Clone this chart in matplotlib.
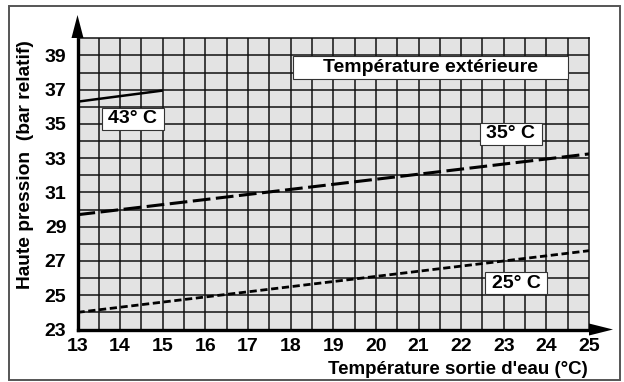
import matplotlib
matplotlib.use("Agg")
import matplotlib.pyplot as plt
from matplotlib.patches import Rectangle, Polygon
import numpy as np

plt.rcParams['font.family'] = ['Liberation Sans', 'DejaVu Sans']
plt.rcParams['font.weight'] = 'bold'

# Data
x_43 = [13, 15]
y_43 = [36.3, 36.95]
x_35 = [13, 25]
y_35 = [29.7, 33.25]
x_25 = [13, 25]
y_25 = [24.0, 27.6]

x_ticks = list(range(13, 26))
y_ticks = list(range(23, 40, 2))

title_box = "Température extérieure"
labels = ["43° C", "35° C", "25° C"]
xlabel = "Température sortie d'eau (°C)"
ylabel = "Haute pression  (bar relatif)"

W, H = 624, 382
fig = plt.figure(figsize=(W / 100, H / 100), dpi=100)
ax = fig.add_axes([77.5 / W, 1 - 329.5 / H, (589 - 77.5) / W, (329.5 - 38.3) / H])
ax.set_facecolor('#e3e3e3')
ax.set_xlim(13, 25)
ax.set_ylim(23, 40)

# grid
for xv in np.arange(13.5, 25.0, 0.5):
    ax.axvline(xv, color='#111111', lw=1.1, zorder=1)
for yv in range(24, 40):
    ax.axhline(yv, color='#111111', lw=1.1, zorder=1)

ax.set_xticks(x_ticks)
ax.set_yticks(y_ticks)
ax.tick_params(length=0, labelsize=14, pad=6)
ax.tick_params(axis='y', pad=8)
for lab in ax.get_xticklabels() + ax.get_yticklabels():
    lab.set_fontweight('bold')
for s in ['left', 'bottom']:
    ax.spines[s].set_linewidth(2.4)
    ax.spines[s].set_color('black')
for s in ['top', 'right']:
    ax.spines[s].set_linewidth(1.1)
    ax.spines[s].set_color('#111111')

# curves
ax.plot(x_43, y_43, color='black', lw=1.8, solid_capstyle='butt', zorder=3)
ax.plot(x_35, y_35, color='black', lw=2.2, dashes=(5.8, 1.8), dash_capstyle='butt', zorder=3)
ax.plot(x_25, y_25, color='black', lw=2.0, dashes=(2.6, 1.3), dash_capstyle='butt', zorder=3)

# labelled boxes
boxes = [
    (title_box, 18.05, 37.62, 6.45, 1.34),
    (labels[0], 13.57, 34.66, 1.46, 1.28),
    (labels[1], 22.44, 33.78, 1.46, 1.28),
    (labels[2], 22.56, 25.06, 1.46, 1.28),
]
for txt, bx, by, bw, bh in boxes:
    ax.add_patch(Rectangle((bx, by), bw, bh, facecolor='white', edgecolor='#333333',
                           lw=0.8, zorder=4))
    ax.text(bx + bw / 2, by + bh / 2, txt, ha='center', va='center', fontsize=14,
            fontweight='bold', zorder=5)

# arrows
ax_l = 77.5 / W
ax_b = 1 - 329.5 / H
fig.add_artist(Polygon([[ax_l - 6 / W, 1 - 38 / H], [ax_l + 6 / W, 1 - 38 / H], [ax_l, 1 - 15 / H]],
                       closed=True, transform=fig.transFigure, color='black', lw=0))
fig.add_artist(Polygon([[589 / W, ax_b + 6 / H], [589 / W, ax_b - 6 / H], [613 / W, ax_b]],
                       closed=True, transform=fig.transFigure, color='black', lw=0))

# axis labels
fig.text(588 / W, 1 - 369.5 / H, xlabel, ha='right', va='center', fontsize=13.5, fontweight='bold')
fig.text(25 / W, 1 - 165 / H, ylabel, ha='center', va='center', rotation=90, fontsize=13.8,
         fontweight='bold')

# figure border
fig.add_artist(Rectangle((9 / W, 2 / H), 611 / W, 374 / H, transform=fig.transFigure,
                         fill=False, edgecolor='#555555', lw=1.4))

fig.savefig('out.png', dpi=100)
